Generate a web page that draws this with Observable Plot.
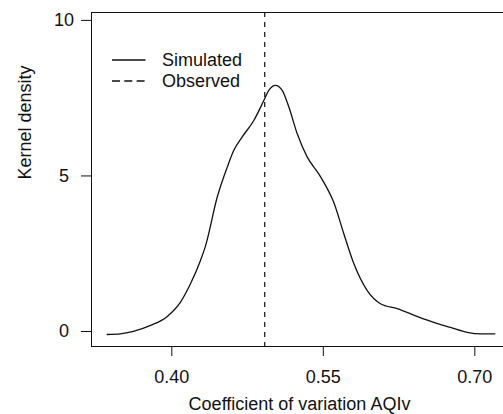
<!DOCTYPE html>
<html>
<head>
<meta charset="utf-8">
<script src="https://cdn.jsdelivr.net/npm/d3@7"></script>
<script src="https://cdn.jsdelivr.net/npm/@observablehq/plot@0.6"></script>
<style>
  html, body { margin: 0; padding: 0; background: #fff; }
  #wrap { position: relative; width: 503px; height: 414px; font-family: "Liberation Sans", Arial, sans-serif; }
  #legend { position: absolute; left: 0; top: 0; pointer-events: none; }
</style>
</head>
<body>
<div id="wrap"></div>
<script>
// Simulated kernel density curve
const cvValues = [0.336, 0.349, 0.362, 0.379, 0.3955, 0.4086, 0.4185, 0.4284, 0.4334, 0.4450, 0.4549, 0.4614, 0.4697, 0.4812, 0.4911, 0.4960, 0.5027, 0.5093, 0.5159, 0.5242, 0.5341, 0.5455, 0.5505, 0.5604, 0.5703, 0.5802, 0.5935, 0.6066, 0.6232, 0.6446, 0.6594, 0.6759, 0.6925, 0.7056, 0.7198];
const densityValues = [0.0, 0.02, 0.10, 0.29, 0.58, 1.04, 1.63, 2.38, 2.85, 4.42, 5.38, 5.92, 6.35, 6.88, 7.52, 7.85, 8.01, 7.85, 7.31, 6.45, 5.70, 5.16, 4.89, 4.24, 3.24, 2.28, 1.41, 0.99, 0.83, 0.56, 0.39, 0.23, 0.07, 0.02, 0.02];
const observedValue = [0.492];

const xTicks = [0.40, 0.55, 0.70];
const yTicks = [0, 5, 10];
const xDomain = [0.3205, 0.7284];
const yDomain = [-0.386, 10.35];
const xLabel = "Coefficient of variation AQIv";
const yLabel = "Kernel density";
const legendLabels = ["Simulated", "Observed"];

const curve = cvValues.map((x, i) => ({x, y: densityValues[i]}));
const ink = "#111";
const fs = 18;

const chart = Plot.plot({
  width: 503,
  height: 414,
  marginLeft: 91,
  marginRight: 0,
  marginTop: 12,
  marginBottom: 68,
  style: {fontFamily: '"Liberation Sans", Arial, sans-serif', fontSize: fs + "px", color: ink, background: "#fff"},
  x: {domain: xDomain, ticks: xTicks},
  y: {domain: yDomain, ticks: yTicks},
  marks: [
    Plot.frame({anchor: "left", stroke: ink}),
    Plot.frame({anchor: "top", stroke: ink}),
    Plot.frame({anchor: "bottom", stroke: ink}),
    Plot.axisX({ticks: xTicks, tickFormat: d3.format(".2f"), tickSize: 10, tickPadding: 14, fontSize: fs, label: null, stroke: ink, fill: ink}),
    Plot.axisY({ticks: yTicks, tickFormat: d3.format("d"), tickSize: 10, tickPadding: 17.5, textAnchor: "middle", dy: -3, fontSize: fs, label: null, stroke: ink, fill: ink}),
    Plot.text([xLabel], {frameAnchor: "bottom", dx: 2, dy: 63, fontSize: fs, fill: ink, text: d => d}),
    Plot.text([yLabel], {frameAnchor: "left", dx: -66, rotate: -90, fontSize: fs, fill: ink, text: d => d}),
    Plot.ruleX(observedValue, {stroke: ink, strokeWidth: 1.2, strokeDasharray: "5,5"}),
    Plot.line(curve, {x: "x", y: "y", curve: "monotone-x", stroke: ink, strokeWidth: 1.3})
  ]
});

const wrap = document.getElementById("wrap");
wrap.appendChild(chart);

// Legend inside the plot area (top-left)
const svg = d3.select(wrap).append("svg")
  .attr("id", "legend")
  .attr("width", 503).attr("height", 414);
const dashes = [null, "8,4.3"];
const rows = svg.selectAll("g").data(legendLabels).join("g")
  .attr("transform", (d, i) => `translate(0, ${60 + i * 21})`);
rows.append("line")
  .attr("x1", 112).attr("x2", 145.5).attr("y1", 0).attr("y2", 0)
  .attr("stroke", ink).attr("stroke-width", 1.3)
  .attr("stroke-dasharray", (d, i) => dashes[i]);
rows.append("text")
  .attr("x", 162).attr("y", 0).attr("dy", "0.35em")
  .attr("font-family", '"Liberation Sans", Arial, sans-serif')
  .attr("font-size", fs).attr("fill", ink)
  .text(d => d);
</script>
</body>
</html>
